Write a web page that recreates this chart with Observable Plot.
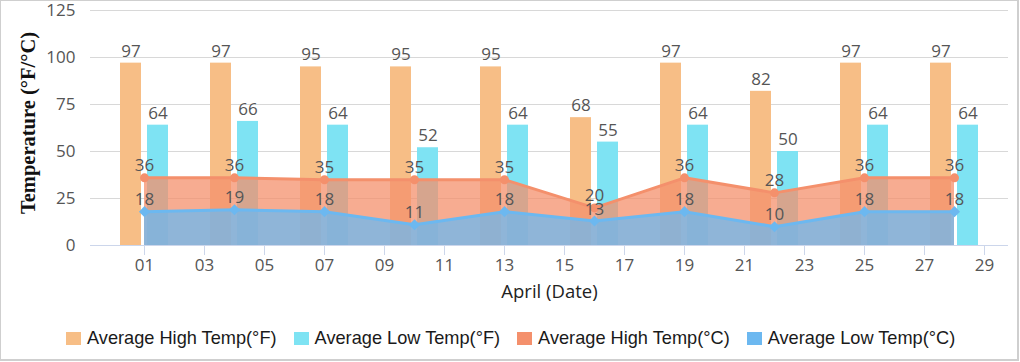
<!DOCTYPE html>
<html>
<head>
<meta charset="utf-8">
<script src="https://cdn.jsdelivr.net/npm/d3@7"></script>
<script src="https://cdn.jsdelivr.net/npm/@observablehq/plot@0.6"></script>
<style>
  html, body { margin: 0; padding: 0; background: #fff; }
  #wrap { position: relative; width: 1020px; height: 362px; overflow: hidden; background: #fff; }
  #frame { position: absolute; left: 0; top: 0; width: 1019px; height: 361px; box-sizing: border-box;
           border: 1px solid #cfcfcf; border-right-width: 2px; border-bottom-width: 2px; pointer-events: none; }
  #chart { position: absolute; left: 0; top: 0; }
  #legend { position: absolute; left: 66px; top: 328px; display: flex; align-items: center;
            font-family: "Liberation Sans", Arial, sans-serif; font-size: 18.2px; color: #1a1a1a; white-space: nowrap; }
  .item { display: flex; align-items: center; margin-right: 17px; }
  .sw { width: 15px; height: 13px; margin-right: 6px; }
</style>
</head>
<body>
<div id="wrap">
  <div id="chart"></div>
  <div id="legend"></div>
  <div id="frame"></div>
</div>
<script>
// ---- data ----
const days = [1, 4, 7, 10, 13, 16, 19, 22, 25, 28];
const highF = [97, 97, 95, 95, 95, 68, 97, 82, 97, 97];
const lowF  = [64, 66, 64, 52, 64, 55, 64, 50, 64, 64];
const highC = [36, 36, 35, 35, 35, 20, 36, 28, 36, 36];
const lowC  = [18, 19, 18, 11, 18, 13, 18, 10, 18, 18];
const xTicks = [1, 3, 5, 7, 9, 11, 13, 15, 17, 19, 21, 23, 25, 27, 29];
const yTicks = [0, 25, 50, 75, 100, 125];
const seriesNames = ["Average High Temp(°F)", "Average Low Temp(°F)", "Average High Temp(°C)", "Average Low Temp(°C)"];
const seriesColors = ["#F7BE86", "#7EE3F3", "#F4906C", "#6CB8F0"];
const yTitle = "Temperature (°F/°C)";
const xTitle = "April (Date)";

const data = days.map((day, i) => ({day, highF: highF[i], lowF: lowF[i], highC: highC[i], lowC: lowC[i]}));

const labelColor = "#555";
const chart = Plot.plot({
  width: 1020,
  height: 310,
  marginLeft: 90,
  marginRight: 12,
  marginTop: 10,
  marginBottom: 65,
  x: {domain: [-0.8, 29.8]},
  y: {domain: [0, 125]},
  style: {fontFamily: "'Open Sans', sans-serif", fontSize: "17px", color: labelColor, background: "transparent", overflow: "visible"},
  marks: [
    Plot.gridY(yTicks, {stroke: "#d8d8d8", strokeOpacity: 1}),
    Plot.rectY(data, {x1: d => d.day - 0.8, x2: d => d.day - 0.1, y: "highF", fill: seriesColors[0]}),
    Plot.rectY(data, {x1: d => d.day + 0.1, x2: d => d.day + 0.8, y: "lowF", fill: seriesColors[1]}),
    Plot.areaY(data, {x: "day", y: "highC", fill: seriesColors[2], fillOpacity: 0.75}),
    Plot.areaY(data, {x: "day", y: "lowC", fill: seriesColors[3], fillOpacity: 0.75}),
    Plot.lineY(data, {x: "day", y: "highC", stroke: seriesColors[2], strokeWidth: 3}),
    Plot.lineY(data, {x: "day", y: "lowC", stroke: seriesColors[3], strokeWidth: 3}),
    Plot.dot(data, {x: "day", y: "highC", r: 4.5, fill: seriesColors[2], stroke: "none"}),
    Plot.dot(data, {x: "day", y: "lowC", r: 5, symbol: "diamond2", fill: seriesColors[3], stroke: "none"}),
    Plot.ruleY([0], {stroke: "#ccd6eb"}),
    Plot.axisX(xTicks, {tickFormat: d => String(d).padStart(2, "0"), tickSize: 10, tickPadding: 3, stroke: "#ccd6eb", fill: labelColor, label: null}),
    Plot.axisY(yTicks, {tickSize: 0, tickPadding: 15, fill: labelColor, label: null}),
    Plot.text(data, {x: d => d.day - 0.45, y: "highF", text: "highF", dy: -12, fill: labelColor}),
    Plot.text(data, {x: d => d.day + 0.45, y: "lowF", text: "lowF", dy: -12, fill: labelColor}),
    Plot.text(data, {x: "day", y: "highC", text: "highC", dy: -12, fill: labelColor}),
    Plot.text(data, {x: "day", y: "lowC", text: "lowC", dy: -12, fill: labelColor}),
    Plot.text([yTitle], {frameAnchor: "left", textAnchor: "middle", rotate: -90, dx: -62, dy: -5, fontFamily: "'Liberation Serif', serif", fontWeight: "bold", fontSize: 20.5, fill: "#111"}),
    Plot.text([xTitle], {frameAnchor: "bottom", dy: 52, fontSize: 18.5, fill: "#222"})
  ]
});
document.getElementById("chart").appendChild(chart);

const legend = document.getElementById("legend");
seriesNames.forEach((name, i) => {
  const item = document.createElement("div");
  item.className = "item";
  const sw = document.createElement("div");
  sw.className = "sw";
  sw.style.background = seriesColors[i];
  const t = document.createElement("span");
  t.textContent = name;
  item.appendChild(sw);
  item.appendChild(t);
  legend.appendChild(item);
});
</script>
</body>
</html>
